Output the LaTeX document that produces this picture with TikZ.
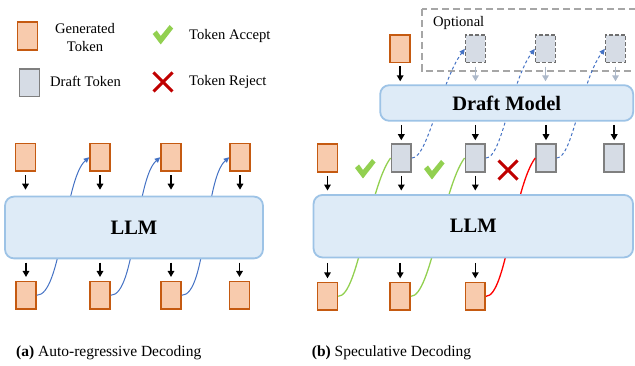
\documentclass[tikz,border=0pt]{standalone}
\usepackage{fontspec}
\setmainfont{Liberation Serif}
\usetikzlibrary{arrows.meta}
\definecolor{genF}{HTML}{F8CBAD}
\definecolor{genB}{HTML}{C55A11}
\definecolor{drfF}{HTML}{D6DCE5}
\definecolor{drfB}{HTML}{7F7F7F}
\definecolor{dashB}{HTML}{6E6E6E}
\definecolor{modF}{HTML}{DEEBF7}
\definecolor{modB}{HTML}{9DC3E6}
\definecolor{blueC}{HTML}{4472C4}
\definecolor{greenC}{HTML}{92D050}
\definecolor{redC}{HTML}{FF0000}
\definecolor{crossC}{HTML}{C00000}
\definecolor{optC}{HTML}{A6A6A6}
\definecolor{garrC}{HTML}{ADB9CA}
\begin{document}
\begin{tikzpicture}[x=1pt,y=-1pt,
  gen/.style={draw=genB, fill=genF, line width=1.7pt, minimum width=19.8pt, minimum height=27.4pt, inner sep=0pt},
  drf/.style={draw=drfB, fill=drfF, line width=1.7pt, minimum width=19.8pt, minimum height=27.4pt, inner sep=0pt},
  drfd/.style={drf, draw=dashB, line width=1.5pt, dash pattern=on 4pt off 2pt},
  model/.style={draw=modB, fill=modF, line width=1.8pt, rounded corners=9pt, inner sep=0pt, font=\fontsize{20.5}{24}\selectfont\bfseries},
  lbl/.style={font=\fontsize{14.6}{17.7}\selectfont, inner sep=0pt},
  captext/.style={font=\fontsize{15.5}{18}\selectfont, inner sep=0pt},
  dar/.style={-{Triangle[length=6pt,width=6.5pt]}, line width=1.5pt, black},
  gar/.style={-{Triangle[length=6pt,width=6.5pt]}, line width=1.7pt, garrC},
  bcurve/.style={-{Triangle[length=5.5pt,width=5pt]}, line width=1pt, blueC},
  dcurve/.style={bcurve, dash pattern=on 3pt off 2.5pt},
  gcurve/.style={line width=1.3pt, greenC},
  rcurve/.style={line width=1.3pt, redC},
  chk/.pic={\fill[greenC] (0,9) -- (4,5.5) -- (8,11) -- (17,0) -- (20.5,3.5) -- (8,19.5) -- cycle;},
  crs/.pic={\draw[crossC, line width=3pt] (0,0) -- (19,19) (19,0) -- (0,19);}
]
\useasboundingbox (0,0) rectangle (635,366);
\clip (0,0) rectangle (635,366);

% ---------- legend ----------
\node[gen] (lgG) at (27.5,36) {};
\node[lbl, align=center] (lgGt) at (85,37.5) {Generated\\Token};
\node[drf] (lgD) at (29.5,82.7) {};
\node[lbl, anchor=west] (lgDt) at (50,81.5) {Draft Token};
\pic at (152.7,25) {chk};
\node[lbl, anchor=west] (lgAt) at (189,35.5) {Token Accept};
\pic at (153.5,72.5) {crs};
\node[lbl, anchor=west] (lgRt) at (189,81.5) {Token Reject};

% ---------- (a) tokens ----------
\foreach \i/\x in {1/25.5,2/100,3/171,4/240}{
  \node[gen] (lt\i) at (\x,157.2) {};
}
\foreach \i/\x in {1/26,2/100,3/171,4/239.5}{
  \node[gen] (lb\i) at (\x,295.3) {};
}
\foreach \i/\j in {1/2,2/3,3/4}{
  \draw[bcurve] (lb\i.east) .. controls +(25,0) and +(-25,22) .. (lt\j.west);
}

% ---------- (b) tokens ----------
\draw[optC, line width=1.8pt, dash pattern=on 7pt off 4pt] (421.7,9.3) rectangle (660,70.7);
\node[lbl, anchor=west] (opt) at (433,23) {Optional};
\node[gen] (ro) at (400.2,48.8) {};
\foreach \i/\x in {1/475.5,2/545.5,3/615.5}{
  \node[drfd] (d\i) at (\x,48.8) {};
}
\node[gen] (rg0) at (327.5,158) {};
\foreach \i/\x in {1/401.3,2/475.3,3/546,4/614.2}{
  \node[drf] (g\i) at (\x,158) {};
}
\foreach \i/\x in {1/327.5,2/400.2,3/475.3}{
  \node[gen] (rb\i) at (\x,296.3) {};
}
\foreach \i in {1,2,3}{
  \draw[dcurve] (g\i.east) .. controls +(16,0) and +(-24,32) .. (d\i.west);
}
\draw[gcurve] (rb1.east) .. controls +(20,0) and +(-22,30) .. (g1.west);
\draw[gcurve] (rb2.east) .. controls +(20,0) and +(-22,30) .. (g2.west);
\draw[rcurve] (rb3.east) .. controls +(20,0) and +(-22,30) .. (g3.west);

% ---------- big boxes ----------
\node[model, minimum width=258pt, minimum height=61.8pt] (llmA) at (134,227.5) {LLM};
\node[model, minimum width=319.5pt, minimum height=62.5pt] (llmB) at (473.3,226.2) {LLM};
\node[model, minimum width=253pt, minimum height=35.6pt] (dm) at (506.7,103) {Draft Model};

% ---------- arrows (a) ----------
\foreach \i in {1,2,3,4}{
  \draw[dar, shorten <=3.3pt, shorten >=6pt] (lt\i.south) -- (lt\i.south |- llmA.north);
  \draw[dar, shorten <=3.4pt, shorten >=3.8pt] (lb\i.north |- llmA.south) -- (lb\i.north);
}

% ---------- arrows (b) ----------
\draw[dar, shorten <=3pt, shorten >=3pt] (ro.south) -- (ro.south |- dm.north);
\foreach \i in {1,2,3}{
  \draw[gar, shorten <=3.4pt, shorten >=3pt] (d\i.south) -- (d\i.south |- dm.north);
}
\foreach \i in {1,2,3,4}{
  \draw[dar, shorten <=3.3pt, shorten >=3.2pt] (g\i.north |- dm.south) -- (g\i.north);
}
\draw[dar, shorten <=3.3pt, shorten >=3.5pt] (rg0.south) -- (rg0.south |- llmB.north);
\draw[dar, shorten <=3.3pt, shorten >=3.5pt] (g1.south) -- (g1.south |- llmB.north);
\draw[dar, shorten <=3.3pt, shorten >=3.5pt] (g2.south) -- (g2.south |- llmB.north);
\foreach \i in {1,2,3}{
  \draw[dar, shorten <=4.5pt, shorten >=3.4pt] (rb\i.north |- llmB.south) -- (rb\i.north);
}

% ---------- marks ----------
\pic at (355,159) {chk};
\pic at (424,160) {chk};
\pic at (498.5,160.5) {crs};

% ---------- captions ----------
\node[captext, anchor=west] (capA) at (16,352.5) {\textbf{(a)} Auto-regressive Decoding};
\node[captext, anchor=west] (capB) at (311.7,352.5) {\textbf{(b)} Speculative Decoding};
\end{tikzpicture}
\end{document}
